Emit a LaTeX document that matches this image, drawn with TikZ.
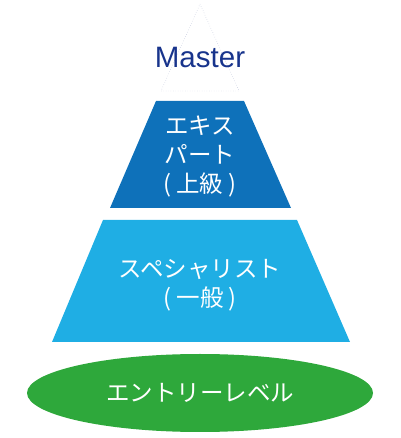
\documentclass[tikz,border=0pt]{standalone}
\usepackage{fontspec}
\setmainfont{Liberation Sans}
\newfontfamily\jpfont{Noto Sans CJK JP}
\usepackage{xcolor}
\usepackage{tikz}
\definecolor{expertblue}{RGB}{14, 113, 186}
\definecolor{specblue}{RGB}{31, 174, 228}
\definecolor{entrygreen}{RGB}{46, 168, 59}
\definecolor{mastertext}{RGB}{24, 52, 140}
\definecolor{guide}{RGB}{160, 168, 200}
\tikzset{
  leveltext/.style={text=white,font=\jpfont\fontsize{23.5}{29}\selectfont,align=center},
}

\begin{document}
\begin{tikzpicture}[x=1pt,y=1pt]
\useasboundingbox (0,0) rectangle (400,438);
% master (empty triangle on top)
\draw[guide,dotted,thin] (200,434) -- (239,347) -- (161,347) -- cycle;
\node[font=\fontsize{29.5}{32}\selectfont,text=mastertext] (master) at (200,380) {Master};
% expert
\fill[expertblue] (156,337) -- (244,337) -- (291,230) -- (110,230) -- cycle;
\node[leveltext] (expert) at (200,281) {エキス\\パート\\( 上級 )};
% specialist
\fill[specblue] (103,218) -- (297,218) -- (350,96) -- (52,96) -- cycle;
\node[leveltext] (spec) at (200,153) {スペシャリスト\\( 一般 )};
% entry level
\fill[entrygreen] (200,45) ellipse (173 and 39);
\node[leveltext] (entry) at (200,45) {エントリーレベル};
\end{tikzpicture}
\end{document}
